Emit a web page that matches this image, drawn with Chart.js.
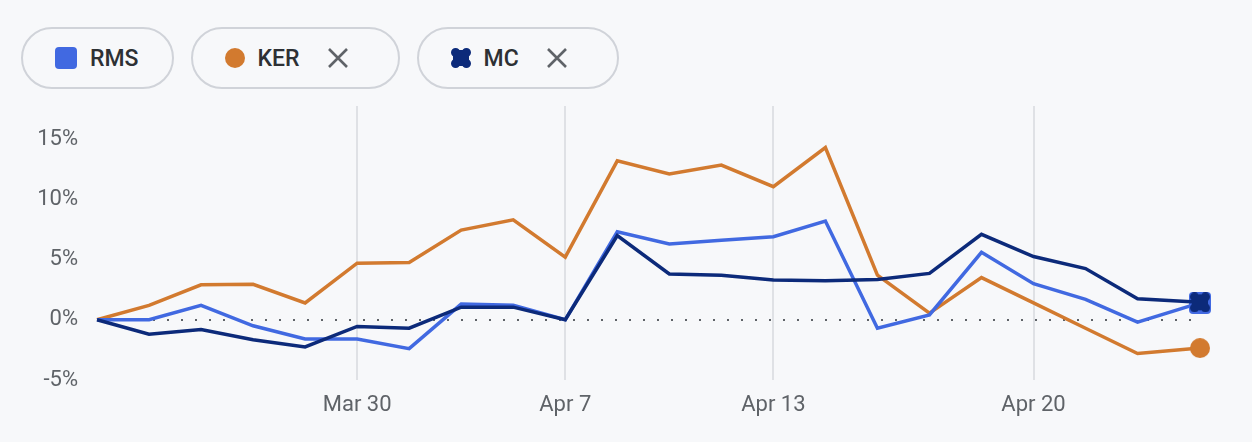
<!DOCTYPE html>
<html>
<head>
<meta charset="utf-8">
<script src="https://cdn.jsdelivr.net/npm/chart.js@4/dist/chart.umd.min.js"></script>
<style>
  body { margin: 0; background: #f7f8fa; width: 1252px; height: 442px; overflow: hidden; font-family: Roboto, sans-serif; }
  #legend { position: absolute; left: 21px; top: 27px; display: flex; gap: 17px; }
  .pill { box-sizing: border-box; height: 62px; border: 2px solid #d0d3d9; border-radius: 31px; display: flex; align-items: center; padding: 0 33px 0 32px; font: 500 23px Roboto, sans-serif; color: #2d3034; }
  .pill.closable { padding-right: 49px; }
  .pill canvas { margin-right: 13px; }
  .pill svg { margin-left: 27px; }
  #wrap { position: absolute; left: 0; top: 0; width: 1252px; height: 442px; }
</style>
</head>
<body>
<div id="legend"></div>
<div id="wrap"><canvas id="chart"></canvas></div>
<script>
'use strict';

// Trading days shown on the axis (Euronext, Easter holidays skipped)
const days = ['Mar 23', 'Mar 24', 'Mar 25', 'Mar 26', 'Mar 27', 'Mar 30', 'Mar 31', 'Apr 1', 'Apr 2',
    'Apr 7', 'Apr 8', 'Apr 9', 'Apr 10', 'Apr 13', 'Apr 14', 'Apr 15', 'Apr 16', 'Apr 17',
    'Apr 20', 'Apr 21', 'Apr 22', 'Apr 23'];
// Session position of each point (last one is intraday)
const sessionIndex = [0, 1, 2, 3, 4, 5, 6, 7, 8, 9, 10, 11, 12, 13, 14, 15, 16, 17, 18, 19, 20, 21.2];
const tickDays = ['Mar 30', 'Apr 7', 'Apr 13', 'Apr 20'];

// % change since start
const rms = [0, 0, 1.2, -0.5, -1.6, -1.6, -2.4, 1.3, 1.2, 0, 7.3, 6.3, 6.6, 6.9, 8.2, -0.7, 0.4, 5.6, 3.0, 1.7, -0.2, 1.4];
const ker = [0, 1.2, 2.9, 2.95, 1.4, 4.7, 4.75, 7.45, 8.3, 5.2, 13.2, 12.1, 12.85, 11.05, 14.3, 3.7, 0.55, 3.5, 1.4, -0.7, -2.8, -2.35];
const mc = [0, -1.2, -0.8, -1.65, -2.25, -0.55, -0.7, 1.05, 1.05, 0, 7.0, 3.8, 3.7, 3.3, 3.25, 3.35, 3.85, 7.1, 5.25, 4.25, 1.75, 1.45];

const yTicks = [-5, 0, 5, 10, 15];

const colors = { RMS: '#4169e1', KER: '#d27a2f', MC: '#0c2a7a' };

// Marker canvases (used for the last point and the legend)
function makeMarker(kind, color) {
    const c = document.createElement('canvas');
    const s = kind === 'square' ? 22 : 20;
    c.width = s; c.height = s;
    const g = c.getContext('2d');
    g.fillStyle = color;
    g.beginPath();
    if (kind === 'square') {
        g.roundRect(0, 0, s, s, 4);
    } else if (kind === 'circle') {
        g.arc(s / 2, s / 2, s / 2, 0, Math.PI * 2);
    } else {
        const r = 4.6;
        [[r, r], [s - r, r], [r, s - r], [s - r, s - r]].forEach(([x, y]) => {
            g.moveTo(x + r, y);
            g.arc(x, y, r, 0, Math.PI * 2);
        });
        g.rect(2, 2, s - 4, s - 4);
    }
    g.fill();
    return c;
}

const markers = {
    RMS: makeMarker('square', colors.RMS),
    KER: makeMarker('circle', colors.KER),
    MC: makeMarker('blob', colors.MC)
};

// Legend pills
const legend = document.getElementById('legend');
['RMS', 'KER', 'MC'].forEach((name, i) => {
    const pill = document.createElement('div');
    pill.className = 'pill' + (i > 0 ? ' closable' : '');
    pill.appendChild(makeMarker(name === 'RMS' ? 'square' : name === 'KER' ? 'circle' : 'blob', colors[name]));
    const label = document.createElement('span');
    label.textContent = name;
    pill.appendChild(label);
    if (i > 0) {
        pill.insertAdjacentHTML('beforeend',
            '<svg width="22" height="22" viewBox="0 0 22 22"><path d="M2 2L20 20M20 2L2 20" stroke="#5f6368" stroke-width="2.6" fill="none"/></svg>');
    }
    legend.appendChild(pill);
});

function series(name, values, order) {
    const last = values.length - 1;
    return {
        label: name,
        data: values.map((v, i) => ({ x: sessionIndex[i], y: v })),
        borderColor: colors[name],
        backgroundColor: colors[name],
        borderWidth: 3.5,
        tension: 0,
        clip: false,
        order: order,
        pointStyle: markers[name],
        pointRadius: ctx => (ctx.dataIndex === last ? 11 : 0),
        pointHoverRadius: 0
    };
}

const axisFont = { family: 'Roboto, sans-serif', size: 22 };

new Chart(document.getElementById('chart').getContext('2d'), {
    type: 'line',
    data: {
        datasets: [
            series('RMS', rms, 1),
            series('KER', ker, 2),
            series('MC', mc, 0)
        ]
    },
    options: {
        responsive: true,
        maintainAspectRatio: false,
        animation: false,
        events: [],
        layout: { padding: { left: 0, right: 52, top: 106, bottom: 22 } },
        scales: {
            x: {
                type: 'linear',
                min: 0,
                max: sessionIndex[sessionIndex.length - 1],
                afterFit: scale => { scale.height = 40; },
                afterBuildTicks: scale => {
                    scale.ticks = tickDays.map(d => ({ value: days.indexOf(d) }));
                },
                ticks: {
                    callback: value => days[value],
                    font: axisFont,
                    color: '#5f6368',
                    padding: 12,
                    maxRotation: 0,
                    autoSkip: false
                },
                grid: { color: '#dfe1e5', lineWidth: 2, drawTicks: false },
                border: { display: false }
            },
            y: {
                min: -5,
                max: 17.75,
                afterFit: scale => { scale.width = 97; },
                afterBuildTicks: scale => {
                    scale.ticks = yTicks.map(v => ({ value: v }));
                },
                ticks: {
                    callback: value => value + '%',
                    font: axisFont,
                    color: '#5f6368',
                    padding: 19
                },
                grid: {
                    drawTicks: false,
                    lineWidth: 2,
                    color: ctx => (ctx.tick && ctx.tick.value === 0 ? '#5f6368' : 'transparent')
                },
                border: { display: false, dash: [2, 12] }
            }
        },
        plugins: {
            legend: { display: false },
            tooltip: { enabled: false }
        }
    }
});
</script>
</body>
</html>
